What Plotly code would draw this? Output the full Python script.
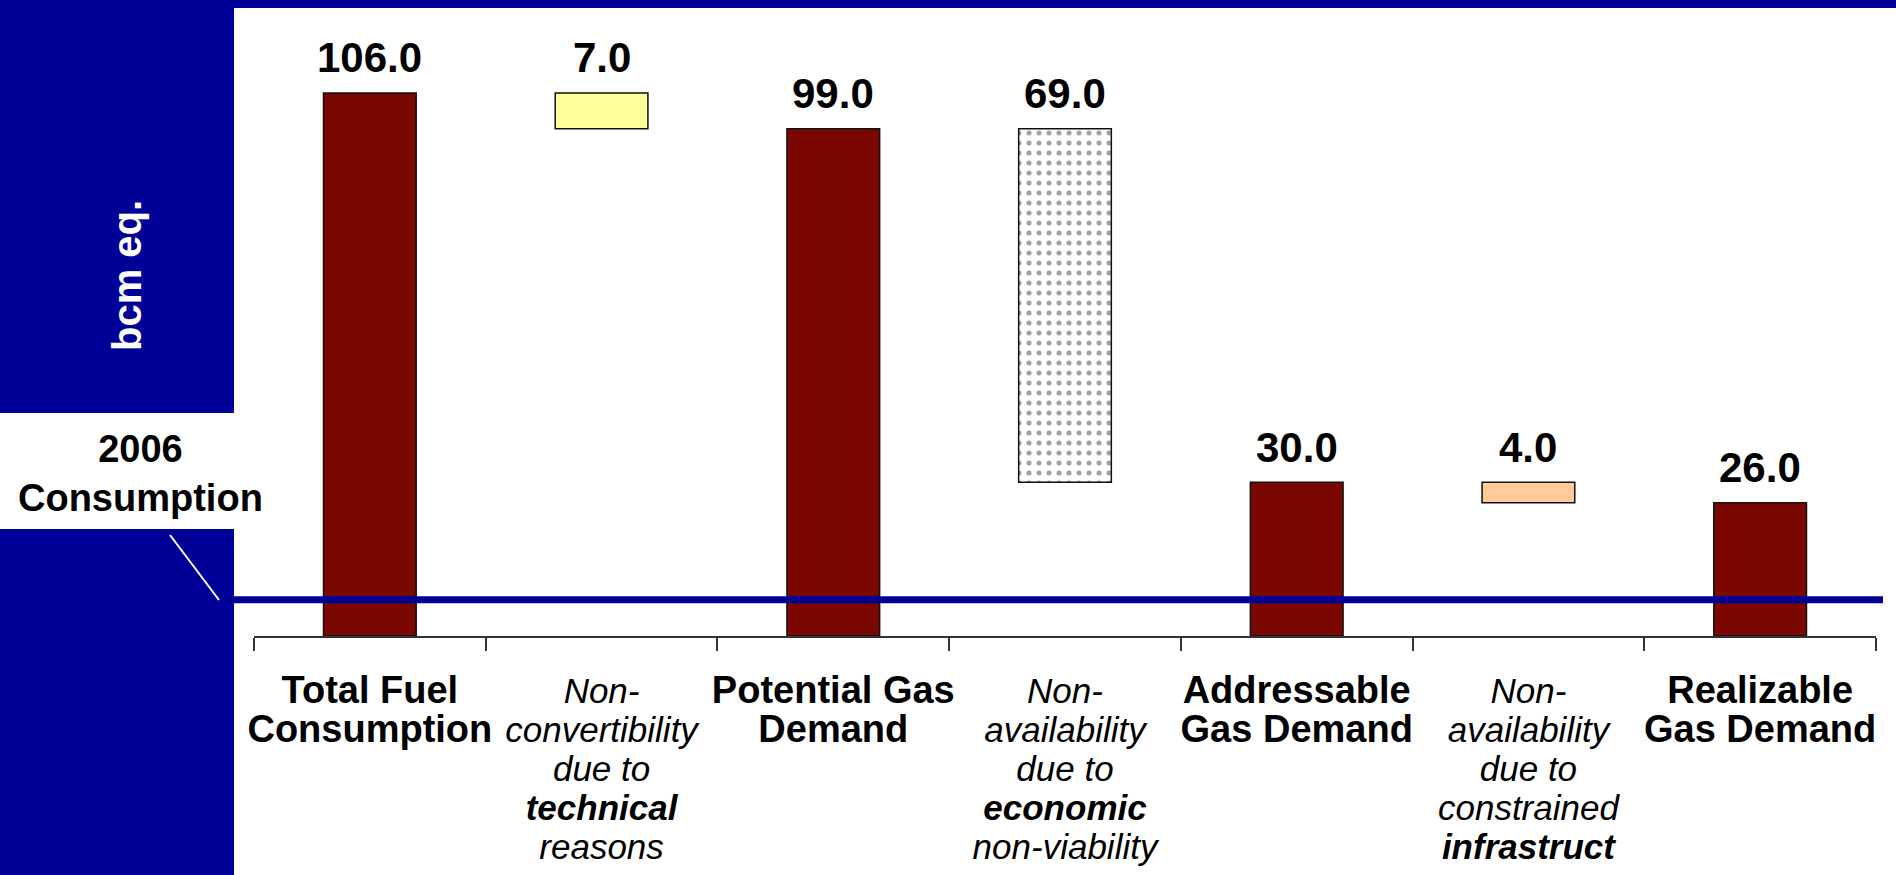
import plotly.graph_objects as go

# ---- data ----
categories = ["Total Fuel Consumption", "Non-convertibility (technical)", "Potential Gas Demand",
              "Non-availability (economic)", "Addressable Gas Demand",
              "Non-availability (infrastructure)", "Realizable Gas Demand"]
values = [106.0, 7.0, 99.0, 69.0, 30.0, 4.0, 26.0]
kinds = ["total", "decrease", "total", "decrease", "total", "decrease", "total"]
consumption_2006 = 7.1

B = 38   # bold label size
I = 35   # italic label size

def bold(lines):
    return "<br>".join(f'<span style="font-size:{B}px"><b>{l}</b></span>' for l in lines)

def ital(lines, bold_idx):
    out = []
    for k, l in enumerate(lines):
        if k == bold_idx:
            out.append(f'<span style="font-size:{I}px"><b><i>{l}</i></b></span>')
        else:
            out.append(f'<span style="font-size:{I}px"><i>{l}</i></span>')
    return "<br>".join(out)

tick_labels = [
    bold(["Total Fuel", "Consumption"]),
    ital(["Non-", "convertibility", "due to", "technical", "reasons"], 3),
    bold(["Potential Gas", "Demand"]),
    ital(["Non-", "availability", "due to", "economic", "non-viability"], 3),
    bold(["Addressable", "Gas Demand"]),
    ital(["Non-", "availability", "due to", "constrained", "infrastruct"], 4),
    bold(["Realizable", "Gas Demand"]),
]

# ---- derived waterfall geometry ----
bases, tops = [], []
level = 0.0
for v, k in zip(values, kinds):
    if k == "total":
        bases.append(0.0)
        level = v
        tops.append(v)
    else:
        bases.append(level - v)
        tops.append(level)
        level = level - v

DARKRED = "#7A0800"
BLUE = "#000099"
dec_colors = ["#FFFF99", "#FFFFFF", "#FFCC99"]
colors, shapes_p = [], []
d = 0
for k in kinds:
    if k == "total":
        colors.append(DARKRED)
        shapes_p.append("")
    else:
        colors.append(dec_colors[d])
        shapes_p.append("." if d == 1 else "")
        d += 1

W, H = 1896, 875
ML, MR, MT, MB = 254, 20, 8, 239
PW, PH = W - ML - MR, H - MT - MB
PX_PER_UNIT = 5.123
YMAX = PH / PX_PER_UNIT

def px_x(px):
    return (px - ML) / PW

def px_y(py):
    return (H - MB - py) / PH

fig = go.Figure()
fig.add_trace(go.Bar(
    x=categories, y=[t - b for t, b in zip(tops, bases)], base=bases,
    width=0.4,
    marker=dict(color=colors, line=dict(color="#111111", width=1.5),
                pattern=dict(shape=shapes_p, fgcolor="#000000", size=10, solidity=0.2)),
    hoverinfo="skip", showlegend=False,
))

annotations = []
for c, v, t in zip(categories, values, tops):
    annotations.append(dict(x=c, y=t, xref="x", yref="y", text=f"<b>{v:.1f}</b>",
                            showarrow=False, yanchor="middle", yshift=35,
                            font=dict(family="Liberation Sans, Arial", size=42, color="black")))

annotations.append(dict(x=px_x(127), y=px_y(275), xref="paper", yref="paper",
                        xanchor="center", yanchor="middle",
                        text="<b>bcm eq.</b>", textangle=-90, showarrow=False,
                        font=dict(family="Liberation Sans, Arial", size=40, color="white")))
annotations.append(dict(x=px_x(140), y=px_y(426), xref="paper", yref="paper",
                        text="<b>2006</b><br><b>Consumption</b>", showarrow=False,
                        xanchor="center", yanchor="top", align="center",
                        font=dict(family="Liberation Sans, Arial", size=38, color="black")))

shapes = [
    dict(type="rect", xref="paper", yref="paper", x0=px_x(0), x1=px_x(234), y0=px_y(H), y1=px_y(0),
         fillcolor=BLUE, line=dict(width=0), layer="above"),
    dict(type="rect", xref="paper", yref="paper", x0=px_x(0), x1=px_x(W), y0=px_y(8), y1=px_y(0),
         fillcolor=BLUE, line=dict(width=0), layer="above"),
    dict(type="rect", xref="paper", yref="paper", x0=px_x(0), x1=px_x(234), y0=px_y(529), y1=px_y(413),
         fillcolor="white", line=dict(width=0), layer="above"),
    dict(type="line", xref="paper", yref="paper", x0=px_x(170), y0=px_y(535), x1=px_x(219), y1=px_y(600),
         line=dict(color="white", width=2), layer="above"),
    dict(type="line", xref="paper", yref="y", x0=px_x(234), x1=px_x(1883),
         y0=consumption_2006, y1=consumption_2006,
         line=dict(color=BLUE, width=7), layer="above"),
]

fig.update_layout(
    width=W, height=H,
    margin=dict(l=ML, r=MR, t=MT, b=MB, pad=0, autoexpand=False),
    paper_bgcolor="white", plot_bgcolor="white",
    bargap=0.6,
    annotations=annotations, shapes=shapes,
    xaxis=dict(type="category", categoryorder="array", categoryarray=categories,
               range=[-0.5, len(categories) - 0.5], automargin=False,
               tickmode="array", tickvals=categories, ticktext=tick_labels,
               tickson="boundaries", ticks="outside", ticklen=13, tickwidth=1.5,
               tickcolor="#333333", showline=True, linecolor="#333333", linewidth=1.5,
               showgrid=False, zeroline=False, tickangle=0,
               ticklabelstandoff=29,
               tickfont=dict(family="Liberation Sans, Arial", size=30, color="black")),
    yaxis=dict(range=[0, YMAX], visible=False, showgrid=False, zeroline=False, automargin=False),
    font=dict(family="Liberation Sans, Arial"),
)

fig.write_html("out.html")
